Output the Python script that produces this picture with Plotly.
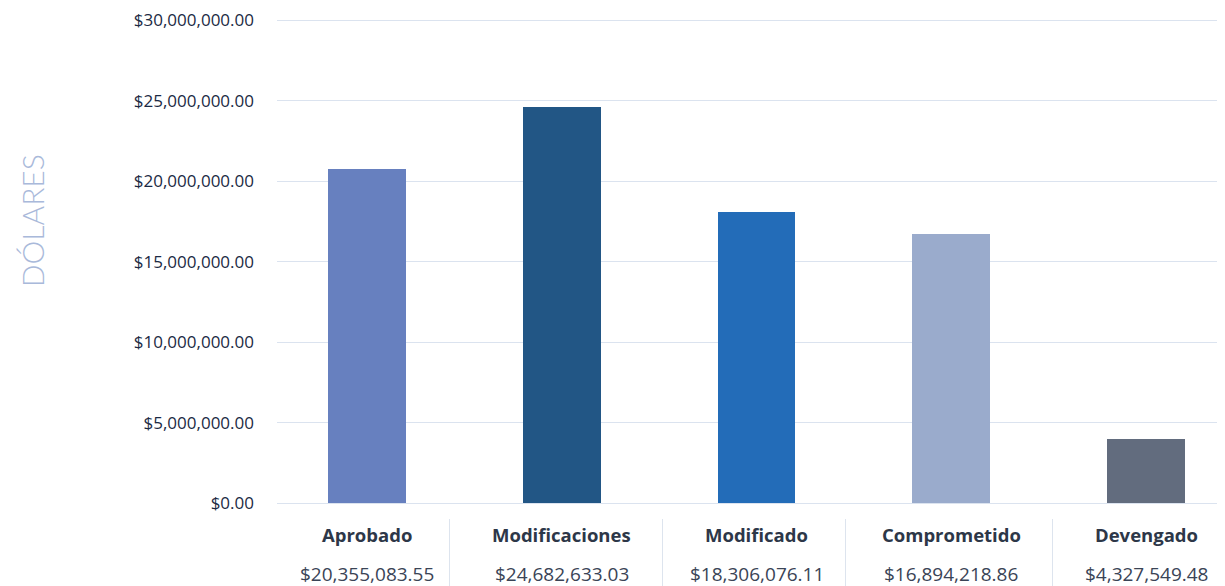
import plotly.graph_objects as go

categories = ["Aprobado", "Modificaciones", "Modificado", "Comprometido", "Devengado"]
bar_values = [20760000, 24630000, 18090000, 16740000, 4000000]
value_labels = ["$20,355,083.55", "$24,682,633.03", "$18,306,076.11", "$16,894,218.86", "$4,327,549.48"]
colors = ["#6780bf", "#225685", "#236cb8", "#9aabcc", "#626c7e"]
tick_vals = [0, 5000000, 10000000, 15000000, 20000000, 25000000, 30000000]
tick_text = ["$0.00", "$5,000,000.00", "$10,000,000.00", "$15,000,000.00",
             "$20,000,000.00", "$25,000,000.00", "$30,000,000.00"]
separators_px = [449.5, 662.5, 845.5, 1052.5]

OFF = 8  # page body margin
W, H = 1225 - OFF, 586 - OFF
Y_MAX = 30000000
Y_TOP = 30400000
px_per_unit = (503 - 20) / Y_MAX
top_px = 503 - Y_TOP * px_per_unit
ML, MR = 277 - OFF, 0
MT = top_px - OFF
MB = H - (503 - OFF)
plot_h = H - MT - MB
plot_w = W - ML - MR
bottom_px = 503


def py(page_y):
    return -(page_y - bottom_px) / plot_h


def px(page_x):
    return (page_x - 277) / plot_w


xs = list(range(len(categories)))

fig = go.Figure(go.Bar(
    x=xs, y=bar_values, marker=dict(color=colors, line=dict(width=0)),
    width=0.4, hoverinfo="skip",
))

ann = []
for i, (c, v) in enumerate(zip(categories, value_labels)):
    ann.append(dict(x=i, xref="x", y=py(535), yref="paper",
                    text="<b>" + c + "</b>", showarrow=False,
                    font=dict(family="Open Sans", size=18.5, color="#2d3748", weight=800),
                    yanchor="middle", xanchor="center"))
    ann.append(dict(x=i, xref="x", y=py(574), yref="paper",
                    text=v, showarrow=False,
                    font=dict(family="Open Sans", size=19, color="#3a4456"),
                    yanchor="middle", xanchor="center"))
ann.append(dict(x=px(32), xref="paper", y=py(221), yref="paper", text="DÓLARES",
                showarrow=False, textangle=-90,
                font=dict(family="Lato", size=30, color="#a9b9da", weight=300),
                xanchor="center", yanchor="middle"))

shapes = []
for sx in separators_px:
    xp = px(sx)
    shapes.append(dict(type="line", xref="paper", yref="paper",
                       x0=xp, x1=xp, y0=py(519), y1=py(590),
                       line=dict(color="#dde4ee", width=1)))

step = 194.75
x0 = (277 - 367) / step
x1 = (1225 - 367) / step

fig.update_layout(
    width=W, height=H,
    margin=dict(l=ML, r=MR, t=MT, b=MB, pad=0),
    paper_bgcolor="white", plot_bgcolor="white",
    showlegend=False,
    bargap=0,
    xaxis=dict(range=[x0, x1], showticklabels=False, showgrid=False,
               zeroline=False, showline=False, ticks=""),
    yaxis=dict(range=[0, Y_TOP], tickvals=tick_vals, ticktext=tick_text,
               showgrid=True, gridcolor="#dbe3ef", gridwidth=1,
               zeroline=True, zerolinecolor="#dbe3ef", zerolinewidth=1,
               showline=False, ticks="", ticklabelstandoff=22,
               tickfont=dict(family="Open Sans", size=17, color="#1b2a44")),
    annotations=ann,
    shapes=shapes,
)

fig.write_html("out.html")
